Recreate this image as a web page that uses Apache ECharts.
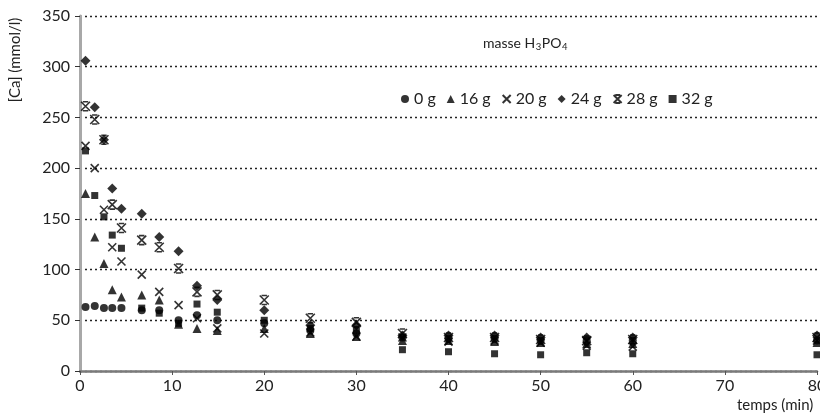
<!DOCTYPE html>
<html>
<head>
<meta charset="utf-8">
<script src="https://cdn.jsdelivr.net/npm/echarts@6/dist/echarts.min.js"></script>
<style>html,body{margin:0;padding:0;background:#fff;}#c{width:820px;height:418px;}</style>
</head>
<body>
<div id="c"></div>
<script>
// Time (min)
const times = [0.6, 1.6, 2.6, 3.5, 4.5, 6.7, 8.6, 10.7, 12.7, 14.9, 20, 25, 30, 35, 40, 45, 50, 55, 60, 80];
// [Ca] (mmol/l) per mass of H3PO4
const ca0g  = [63, 64, 62, 62, 62, 60, 60, 50, 55, 50, 47, 40, 37, 33, 32, 32, 30, 30, 30, 30];
const ca16g = [175, 132, 106, 80, 73, 75, 70, 46, 42, 40, 42, 37, 34, 30, 30, 29, 28, 27, 27, 28];
const ca20g = [222, 200, 159, 122, 108, 95, 78, 65, 52, 42, 37, 38, 34, 33, 29, 30, 28, 25, 24, 30];
const ca24g = [306, 260, 228, 180, 160, 155, 132, 118, 84, 70, 60, 45, 45, 35, 35, 35, 33, 33, 33, 35];
const ca28g = [261, 248, 228, 164, 141, 129, 122, 101, 78, 75, 70, 52, 48, 37, 33, 33, 31, 30, 31, 33];
const ca32g = [217, 173, 152, 134, 121, 62, 57, 47, 66, 58, 50, 42, 40, 21, 19, 17, 16, 18, 17, 16];
const seriesNames = ['0 g', '16 g', '20 g', '24 g', '28 g', '32 g'];
const xTicks = [0, 10, 20, 30, 40, 50, 60, 70, 80];
const yTicks = [0, 50, 100, 150, 200, 250, 300, 350];

const FONT = 'Lato';
const chart = echarts.init(document.getElementById('c'), null, {renderer: 'canvas'});

const crossPath = 'path://M0,0L10,10M10,0L0,10';
const hourPath = 'path://M0,0L10,10M10,0L0,10M2,0L8,0M2,10L8,10';

const styles = [
  {symbol: 'circle', size: 8, item: {color: '#000'}},
  {symbol: 'triangle', size: 9, item: {color: '#000'}},
  {symbol: crossPath, size: 8, item: {color: 'rgba(0,0,0,0)', borderColor: '#000', borderWidth: 1.6}},
  {symbol: 'diamond', size: 10, item: {color: '#000'}},
  {symbol: hourPath, size: 9, item: {color: 'rgba(0,0,0,0)', borderColor: '#000', borderWidth: 1.6}},
  {symbol: 'rect', size: 7, item: {color: '#000'}}
];
const allData = [ca0g, ca16g, ca20g, ca24g, ca28g, ca32g];

const series = allData.map((arr, k) => ({
  name: seriesNames[k],
  type: 'scatter',
  symbol: styles[k].symbol,
  symbolSize: styles[k].size,
  itemStyle: styles[k].item,
  data: times.map((t, i) => [t, arr[i]]),
  z: 3
}));

// subscript title built from measured text pieces
const ctx = document.createElement('canvas').getContext('2d');
function w(txt, size) { ctx.font = size + 'px ' + FONT; return ctx.measureText(txt).width; }
const titleParts = [['masse H', 14, 0], ['3', 9.5, 6], ['PO', 14, 0], ['4', 9.5, 6]];
let tx = 483;
const titleEls = titleParts.map(p => {
  const el = {type: 'text', x: tx, y: 36 + p[2], style: {text: p[0], fontFamily: FONT, fontSize: p[1], fill: '#222'}};
  tx += w(p[0], p[1]) + 0.5;
  return el;
});

chart.setOption({
  animation: false,
  backgroundColor: '#fff',
  grid: {left: 80, right: 3, top: 16, bottom: 47, containLabel: false, outerBoundsMode: 'none'},
  xAxis: {
    type: 'value', min: xTicks[0], max: xTicks[xTicks.length - 1], interval: 10,
    axisLine: {show: true, lineStyle: {color: '#7a7a7a', width: 2.5}},
    axisTick: {show: true, length: 4, lineStyle: {color: '#555', width: 1}},
    axisLabel: {color: '#222', fontFamily: FONT, fontSize: 16, margin: 7, hideOverlap: false},
    splitLine: {show: false}
  },
  yAxis: {
    type: 'value', min: yTicks[0], max: yTicks[yTicks.length - 1], interval: 50,
    axisLine: {show: true, lineStyle: {color: '#a8a8a8', width: 3}},
    axisTick: {show: true, length: 5, lineStyle: {color: '#333', width: 1}},
    axisLabel: {color: '#222', fontFamily: FONT, fontSize: 16, margin: 10},
    splitLine: {show: true, lineStyle: {color: '#222', type: [2, 3], width: 1.3}}
  },
  legend: {
    left: 396, top: 86,
    itemWidth: 8, itemHeight: 8, itemGap: 11,
    textStyle: {color: '#222', fontFamily: FONT, fontSize: 16},
    data: seriesNames
  },
  graphic: titleEls.concat([
    {
      type: 'text', x: 15, y: 60, rotation: Math.PI / 2,
      style: {text: '[Ca] (mmol/l)', fontFamily: FONT, fontSize: 15, fill: '#222', textAlign: 'center', textVerticalAlign: 'middle'}
    },
    {
      type: 'text', left: 737, top: 398,
      style: {text: 'temps (min)', fontFamily: FONT, fontSize: 15, fill: '#222'}
    }
  ]),
  series: series
});
</script>
</body>
</html>
